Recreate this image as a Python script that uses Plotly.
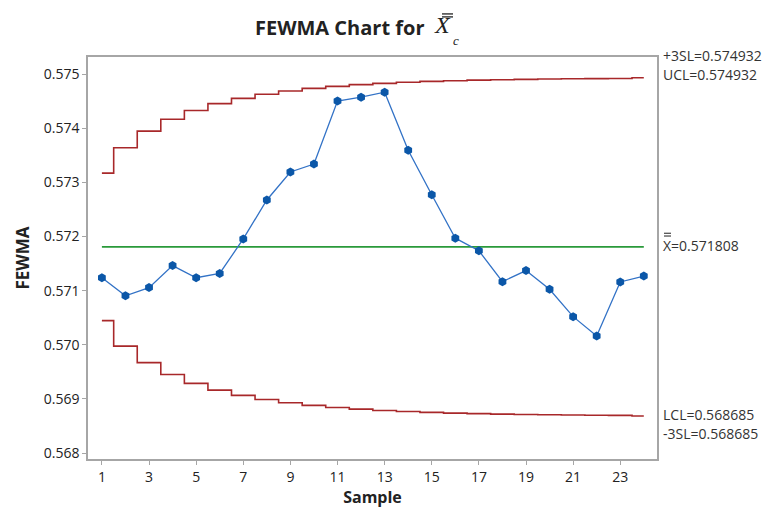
import plotly.graph_objects as go

samples = list(range(1, 25))
fewma = [0.571238, 0.570904, 0.571056, 0.571463, 0.571238, 0.571317, 0.571956, 0.572675,
         0.573192, 0.573338, 0.574501, 0.574574, 0.574666, 0.573594, 0.572772, 0.571969,
         0.571737, 0.571165, 0.571371, 0.571024, 0.570520, 0.570161, 0.571160, 0.571269]
ucl = [0.573170, 0.573640, 0.573946, 0.574166, 0.574329, 0.574454, 0.574551, 0.574628,
       0.574688, 0.574736, 0.574774, 0.574805, 0.574829, 0.574849, 0.574865, 0.574878,
       0.574888, 0.574897, 0.574903, 0.574909, 0.574913, 0.574917, 0.574920, 0.574932]
lcl = [0.570446, 0.569976, 0.569670, 0.569450, 0.569287, 0.569162, 0.569065, 0.568988,
       0.568928, 0.568880, 0.568842, 0.568811, 0.568787, 0.568767, 0.568751, 0.568738,
       0.568728, 0.568719, 0.568713, 0.568707, 0.568703, 0.568699, 0.568696, 0.568685]
center = 0.571808
x_ticks = list(range(1, 25, 2))
y_ticks = [0.568, 0.569, 0.570, 0.571, 0.572, 0.573, 0.574, 0.575]
limit_labels = ["+3SL=0.574932", "UCL=0.574932", "X=0.571808", "LCL=0.568685", "-3SL=0.568685"]

W, H = 779, 512
ML, MR, MT, MB = 88, 122, 57, 49
PW, PH = W - ML - MR, H - MT - MB


def px(x):
    return (x - ML) / PW


def py(y):
    return (H - MB - y) / PH


FONT = "Open Sans"
SERIF = "Liberation Serif"
RED = "#A8282A"
GREEN = "#2A9A3A"
BLUE = "#0B57A8"
AXIS = "#A6A6A6"
TXT = "#222222"

fig = go.Figure()
fig.add_trace(go.Scatter(x=samples, y=ucl, mode="lines", line=dict(color=RED, width=1.6, shape="hvh"),
                         hoverinfo="skip", showlegend=False))
fig.add_trace(go.Scatter(x=samples, y=lcl, mode="lines", line=dict(color=RED, width=1.6, shape="hvh"),
                         hoverinfo="skip", showlegend=False))
fig.add_trace(go.Scatter(x=[samples[0], samples[-1]], y=[center, center], mode="lines",
                         line=dict(color=GREEN, width=1.6), showlegend=False))
fig.add_trace(go.Scatter(x=samples, y=fewma, mode="lines+markers",
                         line=dict(color="#3272C6", width=1.3),
                         marker=dict(color=BLUE, size=9, symbol="hexagon"), showlegend=False))

lab_font = dict(family=FONT, size=14, color="#333333")
label_y = [55, 75, 247, 418.5, 437]
for text, yy in zip(limit_labels, label_y):
    fig.add_annotation(text=text, xref="paper", yref="paper", x=px(661), y=py(yy), xanchor="left",
                       yanchor="middle", showarrow=False, font=lab_font)

# double bar over the X of the centre-line label
shapes = []
for yy in (235, 237.8):
    shapes.append(dict(type="line", xref="paper", yref="paper", x0=px(664), x1=px(671),
                       y0=py(yy), y1=py(yy), line=dict(color="#333333", width=1.1)))

# title: "FEWMA Chart for X-double-bar sub c"
fig.add_annotation(text="<b>FEWMA Chart for</b>", xref="paper", yref="paper", x=px(427), y=py(27),
                   xanchor="right", yanchor="middle", showarrow=False,
                   font=dict(family=FONT, size=20, color=TXT))
fig.add_annotation(text="<i>X</i>", xref="paper", yref="paper", x=px(432), y=py(25),
                   xanchor="left", yanchor="middle", showarrow=False,
                   font=dict(family=SERIF, size=24, color=TXT))
fig.add_annotation(text="<i>c</i>", xref="paper", yref="paper", x=px(451), y=py(40),
                   xanchor="left", yanchor="middle", showarrow=False,
                   font=dict(family=SERIF, size=13, color=TXT))
for yy in (13.5, 16.5):
    shapes.append(dict(type="line", xref="paper", yref="paper", x0=px(442), x1=px(453),
                       y0=py(yy), y1=py(yy), line=dict(color=TXT, width=1.3)))

fig.update_layout(
    width=W, height=H,
    margin=dict(l=ML, r=MR, t=MT, b=MB),
    paper_bgcolor="white", plot_bgcolor="white",
    font=dict(family=FONT, size=14, color="#333333"),
    shapes=shapes,
    xaxis=dict(range=[0.41, 24.56], tickvals=x_ticks, ticks="outside", ticklen=4, tickcolor=AXIS,
               showline=True, linecolor=AXIS, linewidth=1.5, mirror=True, showgrid=False, zeroline=False,
               title=dict(text="<b>Sample</b>", font=dict(family=FONT, size=16, color=TXT), standoff=3),
               tickfont=dict(family=FONT, size=14, color=TXT)),
    yaxis=dict(range=[0.56789, 0.575316], tickvals=y_ticks, tickformat=".3f", ticks="outside", ticklen=4,
               tickcolor=AXIS, showline=True, linecolor=AXIS, linewidth=1.5, mirror=True, showgrid=False,
               zeroline=False,
               title=dict(text="<b>FEWMA</b>", font=dict(family=FONT, size=17, color=TXT), standoff=10),
               tickfont=dict(family=FONT, size=14, color=TXT)),
)

fig.write_html("out.html", config={"displayModeBar": False},
               post_script="document.body.style.margin='0px';")
